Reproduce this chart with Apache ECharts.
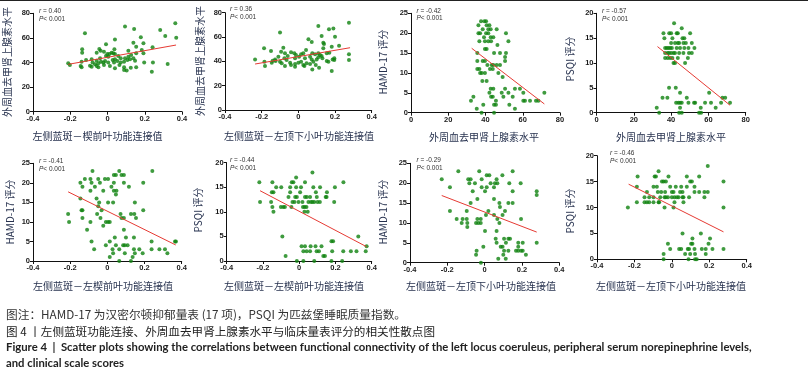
<!DOCTYPE html>
<html><head><meta charset="utf-8">
<script src="https://cdn.jsdelivr.net/npm/echarts@6/dist/echarts.min.js"></script>
<style>html,body{margin:0;padding:0;background:#fff}#c{width:808px;height:381px}</style>
</head><body><div id="c"></div>
<script>
// ---------- axis definitions [min, max, interval] ----------
const fcAxis = [-0.4, 0.4, 0.2];
const neAxis = [0, 80, 20];
const hamdAxis = [0, 25, 5];
const psqiAxis = [0, 20, 5];

// ---------- titles ----------
const neTitle = '外周血去甲肾上腺素水平';
const hamdTitle = 'HAMD-17 评分';
const psqiTitle = 'PSQI 评分';
const xTitles = ['左侧蓝斑－楔前叶功能连接值','左侧蓝斑－左顶下小叶功能连接值','外周血去甲肾上腺素水平','外周血去甲肾上腺素水平',
                 '左侧蓝斑－左楔前叶功能连接值','左侧蓝斑－左楔前叶功能连接值','左侧蓝斑－左顶下小叶功能连接值','左侧蓝斑－左顶下小叶功能连接值'];
const rValues = ['0.40','0.36','-0.42','-0.57','-0.41','-0.44','-0.29','-0.46'];
const pValues = ['0.001','0.001','0.001','0.001','0.001','0.001','0.001','0.001'];

// ---------- data ----------
const p1Points = [[0.094,69.2],[-0.121,63.7],[0.364,71.9],[0.283,66.4],[0.143,67.3],[0.310,61.6],[0.369,60.2],[0.040,58.8],[0.179,60.5],
 [-0.008,54.8],[0.139,56.1],[0.193,55.6],[0.154,52.9],[0.242,52.3],[-0.136,50.7],[-0.044,51.0],[0.037,50.7],[-0.037,49.6],[-0.019,48.8],
 [0.112,49.6],[0.184,50.2],[0.193,47.5],[0.154,47.5],[-0.136,48.0],[-0.058,48.0],[-0.001,46.9],[0.010,46.9],[0.022,48.0],[0.031,47.5],
 [0.040,46.9],[-0.008,45.3],[0.004,44.7],[0.058,45.3],[0.071,43.4],[0.112,44.7],[0.127,46.1],[0.139,43.4],[0.094,43.4],[0.040,42.6],
 [0.028,42.0],[-0.040,43.4],[-0.085,42.6],[-0.058,41.5],[-0.115,42.0],[-0.139,40.7],[-0.080,39.9],[-0.049,39.3],[-0.035,40.7],[-0.013,41.2],
 [0.004,39.9],[0.035,39.9],[0.053,41.2],[0.071,39.9],[0.089,40.7],[0.107,42.0],[0.121,42.6],[0.148,41.5],[0.197,39.9],[0.244,39.9],
 [-0.211,39.3],[-0.202,38.0],[-0.144,37.2],[-0.139,36.1],[-0.094,37.4],[-0.085,36.6],[-0.058,37.2],[-0.049,36.1],[-0.019,38.0],[0.013,37.2],
 [0.040,35.3],[0.064,38.0],[0.089,36.1],[0.103,33.4],[0.089,34.0],[0.125,35.8],[0.154,36.1],[0.238,32.5],[0.323,38.8],[-0.067,38.6],[-0.022,40.0]];
const p1Fit = [[-0.211,38.5],[0.368,54.2]];

const p2Points = [[0.276,71.8],[0.109,69.0],[0.191,67.1],[0.167,66.3],[-0.100,63.8],[0.127,60.8],[0.200,60.3],[0.055,58.1],[0.073,55.9],
 [0.136,55.3],[0.140,54.2],[0.222,52.9],[0.182,52.1],[-0.187,50.7],[-0.082,51.2],[0.042,49.3],[0.136,50.7],[-0.149,48.5],[-0.094,47.9],
 [-0.040,47.4],[-0.022,46.6],[-0.073,46.6],[-0.013,45.2],[0.015,45.8],[0.027,46.6],[0.076,46.6],[0.091,45.8],[0.109,46.6],[0.118,45.2],
 [0.127,44.4],[0.155,46.6],[0.169,47.1],[0.276,45.8],[-0.058,44.4],[-0.109,43.8],[-0.127,41.6],[-0.124,40.3],[-0.076,42.5],[-0.064,41.1],
 [-0.018,42.5],[0.004,43.8],[0.036,42.5],[0.064,43.8],[0.073,41.6],[0.100,41.6],[0.109,43.3],[0.131,42.5],[0.155,40.3],[0.187,41.6],
 [0.196,42.5],[-0.236,41.6],[-0.185,39.7],[-0.145,38.9],[-0.100,39.7],[-0.091,38.4],[-0.045,38.9],[-0.040,37.0],[-0.018,37.8],[0.000,38.9],
 [0.015,39.7],[0.027,37.0],[0.045,38.4],[0.064,37.8],[0.082,39.7],[0.095,37.0],[0.164,39.7],[0.196,41.1],[0.276,41.1],[-0.182,36.2],
 [-0.073,36.2],[-0.018,35.6],[0.033,36.2],[0.076,33.4],[0.113,34.8],[0.182,32.1],[-0.140,40.5]];
const p2Fit = [[-0.236,37.8],[0.282,51.2]];

const p3Points = [[37.6,23],[39.4,23],[40.3,23],[36.2,22],[40.6,22],[42.1,22],[38.5,21],[41.5,21],[42.8,21],[46.0,21],[36.2,20],[37.1,20],
 [40.3,20],[41.5,20],[51.0,20],[39.2,19],[42.8,19],[44.2,19],[36.7,18],[39.7,18],[41.5,18],[43.0,18],[52.3,18],[46.4,17],[39.7,16],[40.6,16],
 [35.6,15],[44.6,15],[47.8,15],[51.0,15],[50.5,14],[35.6,13],[38.5,13],[39.7,13],[50.5,13],[41.0,12],[43.3,12],[44.2,12],[46.0,12],[47.8,12],
 [35.6,11],[36.7,11],[42.4,11],[43.9,11],[37.1,10],[38.0,10],[39.7,10],[46.9,10],[49.2,9],[38.3,8],[40.6,8],
 [42.8,6],[44.2,6],[50.5,6],[55.8,6],[58.5,6],[42.1,5],[48.7,5],[52.3,5],[60.3,5],[71.6,5],[33.5,4],[43.0,4],[43.9,4],[49.6,4],[54.6,4],
 [32.2,3],[45.6,3],[60.3,3],[61.2,3],[63.9,3],[67.1,3],[68.4,3],[38.8,2],[44.6,2],[45.6,2],[52.8,2],[35.3,1],[55.8,1],[37.9,0],[44.6,0]];
const p3Fit = [[32.6,16.2],[71.6,2.2]];

const p4Points = [[41.6,18],[45.7,17],[35.9,16],[39.0,16],[40.0,16],[43.0,16],[43.6,16],[50.2,16],[36.4,15],[40.7,15],[46.1,15],[47.1,15],
 [40.0,14],[42.1,14],[43.6,14],[44.3,14],[46.6,14],[47.9,14],[51.1,14],[36.8,13],[37.7,13],[38.6,13],[39.5,13],[40.4,13],[43.0,13],[44.8,13],
 [47.1,13],[49.3,13],[52.5,13],[36.8,12],[38.2,12],[38.9,12],[40.0,12],[41.3,12],[42.1,12],[44.3,12],[46.6,12],[49.6,12],[51.1,12],
 [36.8,11],[38.2,11],[39.5,11],[40.7,11],[43.6,11],[49.0,11],[41.3,10],[42.1,10],[47.5,10],
 [38.9,5],[42.5,5],[44.8,4],[60.4,4],[35.4,3],[38.0,3],[48.4,3],[67.5,3],[69.0,3],
 [42.7,2],[43.9,2],[44.8,2],[45.7,2],[49.3,2],[52.3,2],[52.9,2],[58.2,2],[61.4,2],[66.8,2],[71.6,2],
 [32.3,1],[44.8,1],[55.9,1],[63.9,1],[33.6,0],[44.3,0],[45.7,0],[55.0,0],[56.1,0]];
const p4Fit = [[32.7,13.3],[71.6,1.5]];

const p5Points = [[-0.080,23],[0.064,23],[0.242,23],[0.035,22],[0.046,22],[0.076,22],[0.089,22],[-0.121,21],[-0.091,21],[-0.049,21],[-0.013,21],
 [0.004,21],[-0.145,20],[-0.085,20],[-0.040,20],[0.035,20],[0.089,20],[0.193,20],[-0.134,19],[-0.067,19],[0.022,19],[0.116,19],
 [-0.091,18],[-0.022,18],[0.035,18],[0.049,18],[0.046,17],[-0.145,16],[-0.058,16],[-0.044,15],[0.004,15],[0.031,15],[0.148,15],[-0.049,14],
 [-0.139,13],[-0.134,13],[-0.031,13],[0.193,13],[-0.211,12],[-0.055,12],[0.071,12],[0.127,12],[0.145,12],[-0.134,11],[-0.037,11],[0.076,11],
 [0.089,11],[0.154,11],[-0.206,10],[-0.091,10],[-0.008,10],[0.004,10],[0.013,10],[-0.022,9],[-0.109,8],[0.089,8],[0.040,6],[0.100,6],[0.143,6],
 [-0.085,5],[0.013,5],[0.238,5],[0.364,5],[0.369,5],[-0.008,4],[0.046,4],[0.085,4],[0.094,4],[0.109,4],[-0.071,3],[0.028,3],[0.064,3],
 [0.143,3],[0.172,3],[0.238,3],[0.280,3],[0.310,3],[0.031,2],[0.094,2],[0.148,2],[0.190,2],[0.323,2],[0.013,1],[0.136,1],[0.064,0],[0.127,0]];
const p5Fit = [[-0.211,17.7],[0.368,4.1]];

const p6Points = [[0.073,18],[-0.017,17],[-0.220,16],[-0.148,16],[-0.041,16],[-0.032,16],[0.032,16],[0.244,16],
 [-0.127,15],[-0.099,15],[-0.050,15],[-0.017,15],[0.010,15],[0.078,15],[0.115,15],[0.197,15],
 [-0.151,14],[-0.142,14],[-0.050,14],[0.005,14],[0.092,14],[0.153,14],
 [-0.059,13],[-0.022,13],[-0.013,13],[0.032,13],[0.042,13],[0.060,13],[0.097,13],[0.146,13],[0.151,13],
 [-0.216,12],[-0.155,12],[-0.037,12],[-0.026,12],[-0.004,12],[0.018,12],[0.051,12],[0.065,12],[0.073,12],[0.083,12],[0.101,12],[0.114,12],[0.193,12],
 [-0.148,11],[-0.101,11],[-0.088,11],[-0.079,11],[-0.043,11],[0.021,11],[0.030,11],[0.040,11],[-0.142,10],[0.029,10],[0.047,10],
 [-0.093,5],[0.326,5],[0.178,4],[0.187,4],[0.013,3],[0.032,3],[0.063,3],[0.090,3],[0.123,3],[0.372,3],
 [0.023,2],[0.041,2],[0.060,2],[0.096,2],[0.109,2],[0.182,2],[0.243,2],[0.285,2],[0.316,2],[0.367,2],
 [-0.075,1],[0.133,1],[0.142,1],[-0.013,0],[0.023,0],[0.083,0],[0.178,0],[0.237,0]];
const p6Fit = [[-0.216,14.3],[0.372,2.9]];

const p7Points = [[-0.141,23],[-0.029,23],[0.150,23],[0.011,22],[0.025,22],[0.095,22],[-0.230,21],[-0.088,21],[-0.075,21],[-0.016,21],[0.064,21],
 [-0.082,20],[-0.052,20],[0.032,20],[0.055,20],[0.068,20],[0.132,20],[0.193,20],[-0.186,19],[-0.016,19],[0.011,19],[0.050,19],
 [-0.064,18],[0.002,18],[0.150,18],[0.279,18],[0.279,17],[-0.039,16],[0.050,16],[-0.075,15],[0.079,15],[0.127,15],[0.150,15],[0.082,14],
 [-0.186,13],[-0.096,13],[0.020,13],[0.109,13],[0.007,12],[0.050,12],[0.096,12],[-0.150,11],[-0.118,11],[-0.096,11],[-0.039,11],[-0.021,11],
 [0.068,11],[0.195,11],[-0.123,10],[-0.093,10],[-0.046,10],[-0.034,10],[-0.021,10],[0.079,10],[-0.093,9],[0.002,8],[0.064,8],
 [0.059,6],[0.104,6],[0.127,6],[0.136,6],[0.064,5],[0.114,5],[0.180,5],[0.204,5],[0.279,5],[-0.007,4],[0.086,4],[0.096,4],[0.180,4],
 [-0.043,3],[0.104,3],[0.127,3],[0.168,3],[0.180,3],[0.195,3],[0.204,3],[-0.046,2],[0.100,2],[0.221,2],[0.073,1],[0.113,1],[-0.020,0]];
const p7Fit = [[-0.230,16.9],[0.279,7.7]];

const p8Points = [[0.192,18],[-0.071,17],[-0.183,16],[-0.092,16],[-0.085,16],[-0.018,16],[0.080,16],[0.146,16],
 [0.276,15],[-0.053,15],[-0.044,15],[-0.032,15],[0.098,15],[0.107,15],
 [-0.187,14],[-0.098,14],[-0.080,14],[-0.009,14],[0.021,14],[0.050,14],[0.080,14],[0.121,14],
 [-0.133,13],[-0.075,13],[-0.057,13],[-0.036,13],[0.000,13],[0.009,13],[0.044,13],[0.057,13],[0.121,13],[0.146,13],[0.174,13],[0.192,13],
 [-0.146,12],[-0.121,12],[-0.098,12],[-0.062,12],[-0.039,12],[-0.032,12],[-0.021,12],[0.000,12],[0.014,12],[0.027,12],[0.036,12],[0.057,12],[0.062,12],[0.092,12],[0.174,12],
 [-0.187,11],[-0.146,11],[-0.133,11],[-0.121,11],[-0.098,11],[-0.071,11],[-0.068,11],[0.014,11],[0.062,11],
 [-0.235,10],[-0.039,10],[0.009,10],[0.276,10],
 [0.057,5],[0.155,5],[0.110,4],[0.204,4],[-0.021,3],[0.103,3],[0.110,3],[0.196,3],
 [-0.009,2],[0.039,2],[0.050,2],[0.085,2],[0.092,2],[0.121,2],[0.160,2],[0.181,2],[0.217,2],[0.276,2],
 [-0.044,1],[0.071,1],[0.098,1],[0.124,1],[0.181,1],[-0.044,0],[0.089,0],[0.124,0],[0.133,0]];
const p8Fit = [[-0.231,14.5],[0.276,5.3]];

// ---------- panel assembly ----------
const panelPoints = [p1Points,p2Points,p3Points,p4Points,p5Points,p6Points,p7Points,p8Points];
const panelFits = [p1Fit,p2Fit,p3Fit,p4Fit,p5Fit,p6Fit,p7Fit,p8Fit];
const panelX = [fcAxis,fcAxis,neAxis,neAxis,fcAxis,fcAxis,fcAxis,fcAxis];
const panelY = [neAxis,neAxis,hamdAxis,psqiAxis,hamdAxis,psqiAxis,hamdAxis,psqiAxis];
const panelYTitle = [neTitle,neTitle,hamdTitle,psqiTitle,hamdTitle,psqiTitle,hamdTitle,psqiTitle];

const layouts = [
 {left:33, top:13.3, width:149, height:98.4},
 {left:225, top:12.7, width:146.7, height:97.3},
 {left:411, top:13.3, width:149, height:99.4},
 {left:596.5, top:13.3, width:149.2, height:99.4},
 {left:33, top:163.3, width:148.7, height:97.7},
 {left:226.7, top:162.7, width:145, height:98.3},
 {left:410, top:163.3, width:149.3, height:99.4},
 {left:597, top:155.7, width:149.7, height:103.6}
];
const yTitlePos = [[7,62],[200,61],[383,62],[570,59],[10,212],[198,210],[383,212],[570,211]];
const xTitlePos = [[97.5,136.7],[299,136],[484,137],[671,137],[103,286.7],[294,286.7],[481,286.7],[671,286.7]];
const statPos = [[39,15],[230,13],[416.5,14.5],[602,15],[39,165],[230,164],[416.5,164],[610,157]];

const tickFont = {fontSize:7.5, fontWeight:'bold', color:'#1a1a1a', fontFamily:'Liberation Sans, Arial, sans-serif'};
const grids=[], xAxes=[], yAxes=[], series=[], graphics=[];
layouts.forEach((L,i)=>{
  grids.push(Object.assign({containLabel:false}, L));
  const xa = panelX[i], ya = panelY[i];
  const axCommon = {
    type:'value', gridIndex:i, splitLine:{show:false},
    axisLine:{show:true, onZero:false, lineStyle:{color:'#111', width:1}},
    axisTick:{show:true, length:3, lineStyle:{color:'#111', width:1}}
  };
  xAxes.push(Object.assign({}, axCommon, {min:xa[0], max:xa[1], interval:xa[2],
    axisLabel:Object.assign({margin:3}, tickFont)}));
  yAxes.push(Object.assign({}, axCommon, {min:ya[0], max:ya[1], interval:ya[2],
    axisLabel:Object.assign({margin:3}, tickFont)}));
  series.push({type:'scatter', xAxisIndex:i, yAxisIndex:i, data:panelPoints[i], symbolSize:4,
    itemStyle:{color:'#0f820f'}, z:2, silent:true});
  series.push({type:'line', xAxisIndex:i, yAxisIndex:i, data:panelFits[i], symbol:'none',
    lineStyle:{color:'#e63a33', width:1}, z:3, silent:true});
  graphics.push({type:'text', x:yTitlePos[i][0], y:yTitlePos[i][1], rotation:Math.PI/2,
    style:{text:panelYTitle[i], align:'center', verticalAlign:'middle', fontSize:10,
      fontFamily:'Noto Sans CJK SC, sans-serif', fill:'#27324f'}});
  graphics.push({type:'text', x:xTitlePos[i][0], y:xTitlePos[i][1],
    style:{text:xTitles[i], align:'center', verticalAlign:'middle', fontSize:10,
      fontFamily:'Noto Sans CJK SC, sans-serif', fill:'#27324f'}});
  graphics.push({type:'text', x:statPos[i][0], y:statPos[i][1],
    style:{text:'{i|r} = '+rValues[i]+'\n{i|P}< '+pValues[i], align:'left', verticalAlign:'middle',
      fontSize:6.5, lineHeight:7.5, fontFamily:'Liberation Sans, Arial, sans-serif', fill:'#333',
      rich:{i:{fontStyle:'italic', fontSize:6.5, fontFamily:'Liberation Sans, Arial, sans-serif', fill:'#333'}}}});
});

// caption
const caption1 = '图注：HAMD-17 为汉密尔顿抑郁量表 (17 项)，PSQI 为匹兹堡睡眠质量指数。';
const caption2 = '图 4 丨左侧蓝斑功能连接、外周血去甲肾上腺素水平与临床量表评分的相关性散点图';
const caption3 = 'Figure 4  |  Scatter plots showing the correlations between functional connectivity of the left locus coeruleus, peripheral serum norepinephrine levels,';
const caption4 = 'and clinical scale scores';
graphics.push({type:'line', shape:{x1:0,y1:0.5,x2:808,y2:0.5}, style:{stroke:'#222', lineWidth:1}});
graphics.push({type:'text', x:6, y:315, style:{text:caption1, verticalAlign:'middle', fontSize:11.7,
  fontFamily:'Noto Sans CJK SC, sans-serif', fill:'#333'}});
graphics.push({type:'text', x:6, y:331.7, style:{text:caption2, verticalAlign:'middle', fontSize:11.6,
  fontFamily:'Noto Sans CJK SC, sans-serif', fill:'#222'}});
graphics.push({type:'text', x:6, y:347.7, style:{text:caption3, verticalAlign:'middle', fontSize:11.3, fontWeight:'bold',
  fontFamily:'Lato, sans-serif', fill:'#222'}});
graphics.push({type:'text', x:6, y:363.3, style:{text:caption4, verticalAlign:'middle', fontSize:11.3, fontWeight:'bold',
  fontFamily:'Lato, sans-serif', fill:'#222'}});

const chart = echarts.init(document.getElementById('c'), null, {renderer:'canvas'});
chart.setOption({animation:false, backgroundColor:'#fff', grid:grids, xAxis:xAxes, yAxis:yAxes, series:series, graphic:graphics});
</script></body></html>
